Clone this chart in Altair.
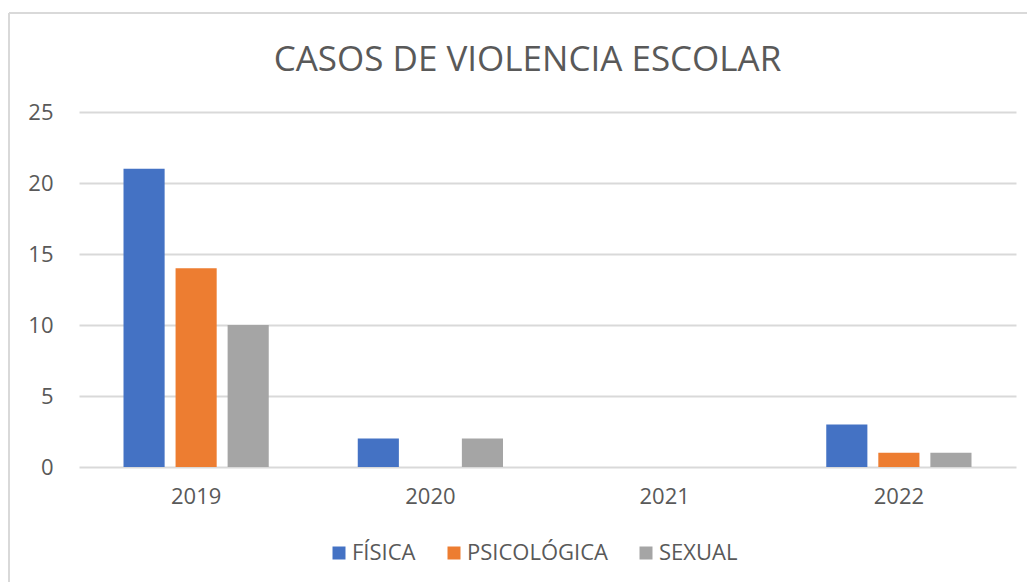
import altair as alt
import pandas as pd

years = ["2019", "2020", "2021", "2022"]
series = ["FÍSICA", "PSICOLÓGICA", "SEXUAL"]
fisica = [21, 2, 0, 3]
psicologica = [14, 0, 0, 1]
sexual = [10, 2, 0, 1]
colors = ["#4472C4", "#ED7D31", "#A5A5A5"]

rows = []
for name, vals in zip(series, [fisica, psicologica, sexual]):
    for y, v in zip(years, vals):
        rows.append({"year": y, "tipo": name, "casos": v})
df = pd.DataFrame(rows)

FONT = "Open Sans"
TXT = "#595959"

bars = alt.Chart(df).mark_bar().encode(
    x=alt.X("year:N", sort=years,
            scale=alt.Scale(paddingInner=0.38, paddingOuter=0.19),
            axis=alt.Axis(title=None, labelAngle=0, ticks=False, domain=False,
                          labelPadding=19, labelFontSize=22, labelColor=TXT,
                          labelFont=FONT, grid=False)),
    xOffset=alt.XOffset("tipo:N", sort=series,
                        scale=alt.Scale(paddingInner=0.21, paddingOuter=0)),
    y=alt.Y("casos:Q",
            scale=alt.Scale(domain=[0, 25], nice=False),
            axis=alt.Axis(title=None, values=[0, 5, 10, 15, 20, 25], ticks=False,
                          domain=False, labelPadding=26, labelFontSize=22,
                          labelColor=TXT, labelFont=FONT, gridColor="#D9D9D9",
                          gridWidth=2)),
    color=alt.Color("tipo:N", sort=series,
                    scale=alt.Scale(domain=series, range=colors),
                    legend=alt.Legend(title=None, orient="none", direction="horizontal",
                                      legendX=249, legendY=430, symbolType="square",
                                      symbolSize=169, symbolStrokeWidth=0,
                                      labelFontSize=22, labelColor=TXT, labelFont=FONT,
                                      labelOffset=2, columnPadding=27, padding=0)),
)

border_left = alt.Chart(df).mark_rule(color="#D9D9D9", strokeWidth=2).encode(
    x=alt.value(-70), y=alt.value(-99), y2=alt.value(480))
border_top = alt.Chart(df).mark_rule(color="#D9D9D9", strokeWidth=2).encode(
    x=alt.value(-70), x2=alt.value(960), y=alt.value(-99))

chart = alt.layer(border_left, border_top, bars).properties(
    width=937, height=355,
    background="white",
    title=alt.TitleParams("CASOS DE VIOLENCIA ESCOLAR", fontSize=35, font=FONT,
                          fontWeight="normal", color=TXT, anchor="middle",
                          dx=-20, dy=66, offset=0),
    autosize=alt.AutoSizeParams(type="none"),
    padding={"left": 71, "top": 104, "right": 11, "bottom": 115},
).configure_view(stroke="transparent", strokeWidth=0).configure_axis(
    domain=False, ticks=False
)

chart.save("out.html", embed_options={"renderer": "svg", "actions": False})
